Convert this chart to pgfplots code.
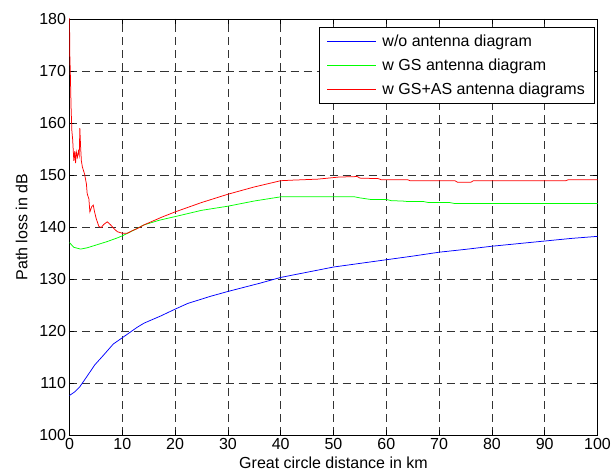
\documentclass[border=0pt]{standalone}
\usepackage{fontspec}
\setmainfont{Liberation Sans}
\usepackage{pgfplots}
\pgfplotsset{compat=1.18}
\newcommand{\chartfont}{\fontsize{16bp}{18bp}\selectfont}
% short legend sample line in the given colour, with a small gap before the text
\pgfplotsset{
  sample/.style={legend image code/.code={%
    \draw[draw=#1, line width=1.4bp] (0bp,0bp) -- (49bp,0bp);
    \path (53bp,0bp);}},
}

\begin{document}
\begin{tikzpicture}
\begin{axis}[
  name=ax,
  scale only axis,
  width=528bp, height=416bp,
  xmin=0, xmax=100, ymin=100, ymax=180,
  xtick={0,10,...,100}, ytick={100,110,...,180},
  tick align=inside,
  major tick length=5bp,
  every tick/.style={black, line width=0.5bp},
  axis line style={black, line width=0.6bp},
  grid=major,
  major grid style={black!80, line width=0.6bp, dash pattern=on 8bp off 5bp},
  font=\chartfont,
  ticklabel style={font=\chartfont},
  /pgf/number format/assume math mode=true,
  /pgf/number format/1000 sep={},
  xlabel={Great circle distance in km},
  ylabel={Path loss in dB},
  xlabel style={font=\chartfont, yshift=0bp},
  ylabel style={font=\chartfont, yshift=5bp},
  legend cell align=left,
  legend style={
    font=\chartfont,
    at={(1,1)}, anchor=north east, xshift=-3bp, yshift=-8bp,
    inner xsep=7.5bp, inner ysep=5.5bp,
    row sep=7bp,
  },
]
% free-space loss without antenna diagrams
\addplot[draw=blue, line width=0.75bp, sample=blue] coordinates {
  (0,107.6) (1,108.3) (1.9,109.2) (3.2,111.1) (4.8,113.5) (6.4,115.3)
  (8.3,117.5) (10,118.7) (12.8,120.7) (14.1,121.5) (17.3,122.9) (20,124.2)
  (22.4,125.3) (26.8,126.7) (30,127.6) (36.1,129.2) (40,130.3) (45,131.3)
  (50,132.3) (55,133.0) (60,133.7) (65,134.4) (70,135.15) (75,135.7)
  (80,136.3) (85,136.8) (90,137.3) (95,137.8) (100,138.2)
};
\addlegendentry{w/o antenna diagram}
% ground-station antenna diagram
\addplot[draw=green, line width=0.75bp, sample=green] coordinates {
  (0,137.0) (0.8,136.1) (2.1,135.75) (3.35,136.0) (5.25,136.6) (7.15,137.2)
  (9.05,137.9) (10,138.3) (11.6,139.1) (14.1,140.4) (17,141.3) (20,142.0)
  (25,143.2) (30,144.0) (35,145.0) (40,145.8) (54,145.8) (55,145.6)
  (57,145.3) (60,145.3) (61,145.05) (63,145.0) (64,144.9) (67,144.9)
  (68,144.7) (72,144.7) (73,144.5) (100,144.5)
};
\addlegendentry{w GS antenna diagram}
% ground-station and aircraft-station antenna diagrams
\addplot[draw=red, line width=0.75bp, sample=red] coordinates {
  (0,181) (0.05,173.5) (0.15,170) (0.3,163) (0.45,158.5) (0.6,156.8)
  (0.82,152.7) (1.0,154.6) (1.15,152.3) (1.3,154.4) (1.5,153.4) (1.7,154.6)
  (1.85,153.8) (1.96,159.0) (2.1,155.5) (2.25,152.7) (2.45,151.5) (2.85,150.2)
  (3.2,148.3) (3.35,146.4) (3.67,145.4) (3.86,142.9) (4.2,143.9) (4.5,144.2)
  (4.75,142.9) (5.06,141.6) (5.57,140.1) (6.0,139.9) (6.5,140.5) (7.15,141.0)
  (7.8,140.4) (8.4,139.7) (9.05,139.1) (10.0,138.8) (10.95,138.8) (11.9,139.3)
  (12.85,139.7) (14.1,140.4) (15,140.8) (17.5,141.9) (20,142.9) (22.5,143.8)
  (25,144.7) (27.5,145.5) (30,146.3) (32.5,147.0) (35,147.7) (37.5,148.3)
  (40,148.9) (42,149.0) (47,149.2) (51,149.6) (54.5,149.7) (55,149.4)
  (58.5,149.3) (59,149.1) (64,149.1) (64.5,148.9) (73,148.9) (73.5,148.6)
  (76,148.6) (76.5,148.9) (94,148.9) (94.5,149.1) (100,149.1)
};
\addlegendentry{w GS+AS antenna diagrams}
\end{axis}
\pgfresetboundingbox
\path[use as bounding box] ([shift={(-69.5bp,-39bp)}]ax.south west) rectangle ([shift={(14.5bp,19bp)}]ax.north east);
\end{tikzpicture}
\end{document}
